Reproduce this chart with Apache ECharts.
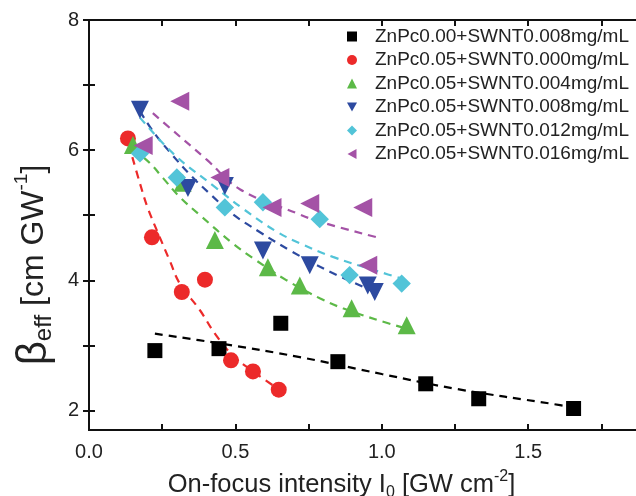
<!DOCTYPE html>
<html lang="en">
<head>
    <meta charset="UTF-8">
    <title>beta eff vs intensity</title>
    <style>
        html, body { margin: 0; padding: 0; background: #fff; }
        #chart { width: 636px; height: 496px; }
    </style>
</head>
<body>
    <div id="chart"></div>
    <script src="https://cdn.jsdelivr.net/npm/echarts@6/dist/echarts.min.js"></script>
    <script>
        var names = ['ZnPc0.00+SWNT0.008mg/mL', 'ZnPc0.05+SWNT0.000mg/mL', 'ZnPc0.05+SWNT0.004mg/mL',
            'ZnPc0.05+SWNT0.008mg/mL', 'ZnPc0.05+SWNT0.012mg/mL', 'ZnPc0.05+SWNT0.016mg/mL'];
        var colors = ['#000000', '#ec2a2a', '#5cb947', '#2d4aa0', '#52c4d8', '#a452a6'];

        // measured points [intensity, beta]
        var blackPts = [[0.225, 2.92], [0.444, 2.95], [0.655, 3.34], [0.85, 2.75], [1.15, 2.41], [1.331, 2.18], [1.655, 2.03]];
        var redPts = [[0.133, 6.18], [0.215, 4.66], [0.317, 3.82], [0.396, 4.01], [0.485, 2.77], [0.56, 2.6], [0.648, 2.32]];
        var greenPts = [[0.15, 6.08], [0.32, 5.5], [0.43, 4.62], [0.611, 4.2], [0.72, 3.92], [0.897, 3.57], [1.085, 3.31]];
        var bluePts = [[0.174, 6.62], [0.338, 5.42], [0.464, 5.45], [0.594, 4.46], [0.754, 4.23], [0.952, 3.92], [0.976, 3.82]];
        var cyanPts = [[0.174, 5.95], [0.30, 5.58], [0.464, 5.12], [0.594, 5.2], [0.788, 4.94], [0.89, 4.08], [1.068, 3.95]];
        var purplePts = [[0.185, 6.07], [0.31, 6.75], [0.447, 5.58], [0.625, 5.12], [0.754, 5.18], [0.935, 5.12], [0.952, 4.23]];

        // dashed fit curves
        var blackFit = [[0.225, 3.18], [0.447, 3.03], [0.72, 2.82], [1.0, 2.56], [1.256, 2.33], [1.584, 2.1], [1.66, 2.04]];
        var redFit = [[0.135, 6.1], [0.174, 5.49], [0.2, 5.12], [0.24, 4.68], [0.276, 4.3], [0.31, 3.95], [0.379, 3.54], [0.43, 3.18], [0.49, 2.85], [0.57, 2.57], [0.65, 2.32]];
        var greenFit = [[0.15, 6.02], [0.208, 5.8], [0.253, 5.57], [0.31, 5.28], [0.379, 5.0], [0.49, 4.57], [0.56, 4.34], [0.675, 4.0], [0.79, 3.72], [0.867, 3.57], [0.993, 3.38], [1.09, 3.25]];
        var blueFit = [[0.174, 6.6], [0.22, 6.28], [0.28, 5.95], [0.35, 5.6], [0.42, 5.3], [0.49, 5.02], [0.58, 4.75], [0.69, 4.45], [0.81, 4.16], [0.976, 3.82]];
        var cyanFit = [[0.174, 6.5], [0.294, 5.92], [0.423, 5.46], [0.526, 5.1], [0.64, 4.75], [0.72, 4.57], [0.833, 4.36], [1.0, 4.12], [1.065, 4.03]];
        var purpleFit = [[0.218, 6.57], [0.266, 6.38], [0.403, 5.85], [0.515, 5.4], [0.71, 5.03], [0.788, 4.9], [0.993, 4.65]];

        var xTicks = [0, 0.25, 0.5, 0.75, 1.0, 1.25, 1.5, 1.75];
        var xLabels = [0, 0.5, 1.0, 1.5];
        var yTicks = [2, 3, 4, 5, 6, 7, 8];
        var yLabels = [2, 4, 6, 8];

        var pts = [blackPts, redPts, greenPts, bluePts, cyanPts, purplePts];
        var fits = [blackFit, redFit, greenFit, blueFit, cyanFit, purpleFit];
        var symbols = ['rect', 'circle', 'triangle', 'triangle', 'rect', 'triangle'];
        var rotates = [0, 0, 0, 180, 45, 90];
        var sizes = [15, 16, 18, 18, 13, 19];
        // legend icons: the legend does not pick up the rotation, so draw the shapes
        var legendIcons = ['rect', 'circle', 'triangle',
            'path://M0,0 L10,0 L5,9 Z',
            'path://M5,0 L10,5 L5,10 L0,5 Z',
            'path://M9,0 L9,10 L0,5 Z'];

        var font = 'Liberation Sans';
        var axisLine = { show: true, lineStyle: { color: '#111', width: 2 } };

        var series = [];
        fits.forEach(function (f, i) {
            series.push({
                name: 'fit' + i,
                type: 'line',
                data: f,
                smooth: 0.4,
                showSymbol: false,
                silent: true,
                z: 1,
                lineStyle: { color: colors[i], width: 2.2, type: [8, 6] }
            });
        });
        pts.forEach(function (p, i) {
            series.push({
                name: names[i],
                type: 'scatter',
                data: p,
                symbol: symbols[i],
                symbolRotate: rotates[i],
                symbolSize: sizes[i],
                z: 3,
                itemStyle: { color: colors[i], opacity: 1 }
            });
        });

        var chart = echarts.init(document.getElementById('chart'));
        chart.setOption({
            animation: false,
            backgroundColor: '#fff',
            textStyle: { fontFamily: font },
            grid: { left: 89, top: 20, width: 549, height: 410, outerBoundsMode: 'none' },
            legend: {
                data: names.map(function (n, i) {
                    return { name: n, icon: legendIcons[i], itemStyle: { color: colors[i] } };
                }),
                orient: 'vertical',
                left: 342,
                top: 22,
                itemWidth: 10,
                itemHeight: 10,
                itemGap: 4.5,
                symbolRotate: 0,
                textStyle: { fontFamily: font, fontSize: 19, lineHeight: 19, color: '#222', padding: [0, 0, 0, 13] }
            },
            xAxis: [{
                type: 'value',
                min: 0,
                max: 1.875,
                position: 'bottom',
                axisLine: axisLine,
                splitLine: { show: false },
                axisTick: { inside: true, length: 6, lineStyle: { width: 2, color: '#111' }, customValues: xTicks },
                axisLabel: {
                    customValues: xLabels, margin: 12, fontSize: 20, color: '#222',
                    formatter: function (v) { return v.toFixed(1); }
                },
                name: 'On-focus intensity I{sub|0} [GW cm{sup|-2}]',
                nameLocation: 'middle',
                nameGap: 39,
                nameTextStyle: {
                    fontSize: 25.5, color: '#222', lineHeight: 32, padding: [0, 44, 0, 0],
                    rich: {
                        sub: { fontSize: 16, verticalAlign: 'bottom', lineHeight: 17 },
                        sup: { fontSize: 16, verticalAlign: 'top', lineHeight: 15 }
                    }
                }
            }, {
                type: 'value',
                min: 0,
                max: 1.875,
                position: 'top',
                axisLine: axisLine,
                splitLine: { show: false },
                axisTick: { inside: true, length: 6, lineStyle: { width: 2, color: '#111' }, customValues: xTicks },
                axisLabel: { show: false }
            }],
            yAxis: [{
                type: 'value',
                min: 1.7,
                max: 8,
                position: 'left',
                axisLine: axisLine,
                splitLine: { show: false },
                axisTick: { inside: true, length: 6, lineStyle: { width: 2, color: '#111' }, customValues: yTicks },
                axisLabel: { customValues: yLabels, margin: 10, fontSize: 20, color: '#222' },
                name: '{b|β}{s|eff}{t| [cm GW}{p|-1}{t|]}',
                nameLocation: 'middle',
                nameRotate: 90,
                nameGap: 33,
                nameTextStyle: {
                    color: '#222', padding: [0, 80, 0, 0],
                    rich: {
                        b: { fontSize: 42, lineHeight: 44 },
                        s: { fontSize: 24, verticalAlign: 'bottom', lineHeight: 22 },
                        t: { fontSize: 32, lineHeight: 44 },
                        p: { fontSize: 19, verticalAlign: 'top', lineHeight: 22 }
                    }
                }
            }, {
                type: 'value',
                min: 1.7,
                max: 8,
                position: 'right',
                axisLine: axisLine,
                splitLine: { show: false },
                axisTick: { inside: true, length: 6, lineStyle: { width: 2, color: '#111' }, customValues: yTicks },
                axisLabel: { show: false }
            }],
            series: series
        });
    </script>
</body>
</html>
